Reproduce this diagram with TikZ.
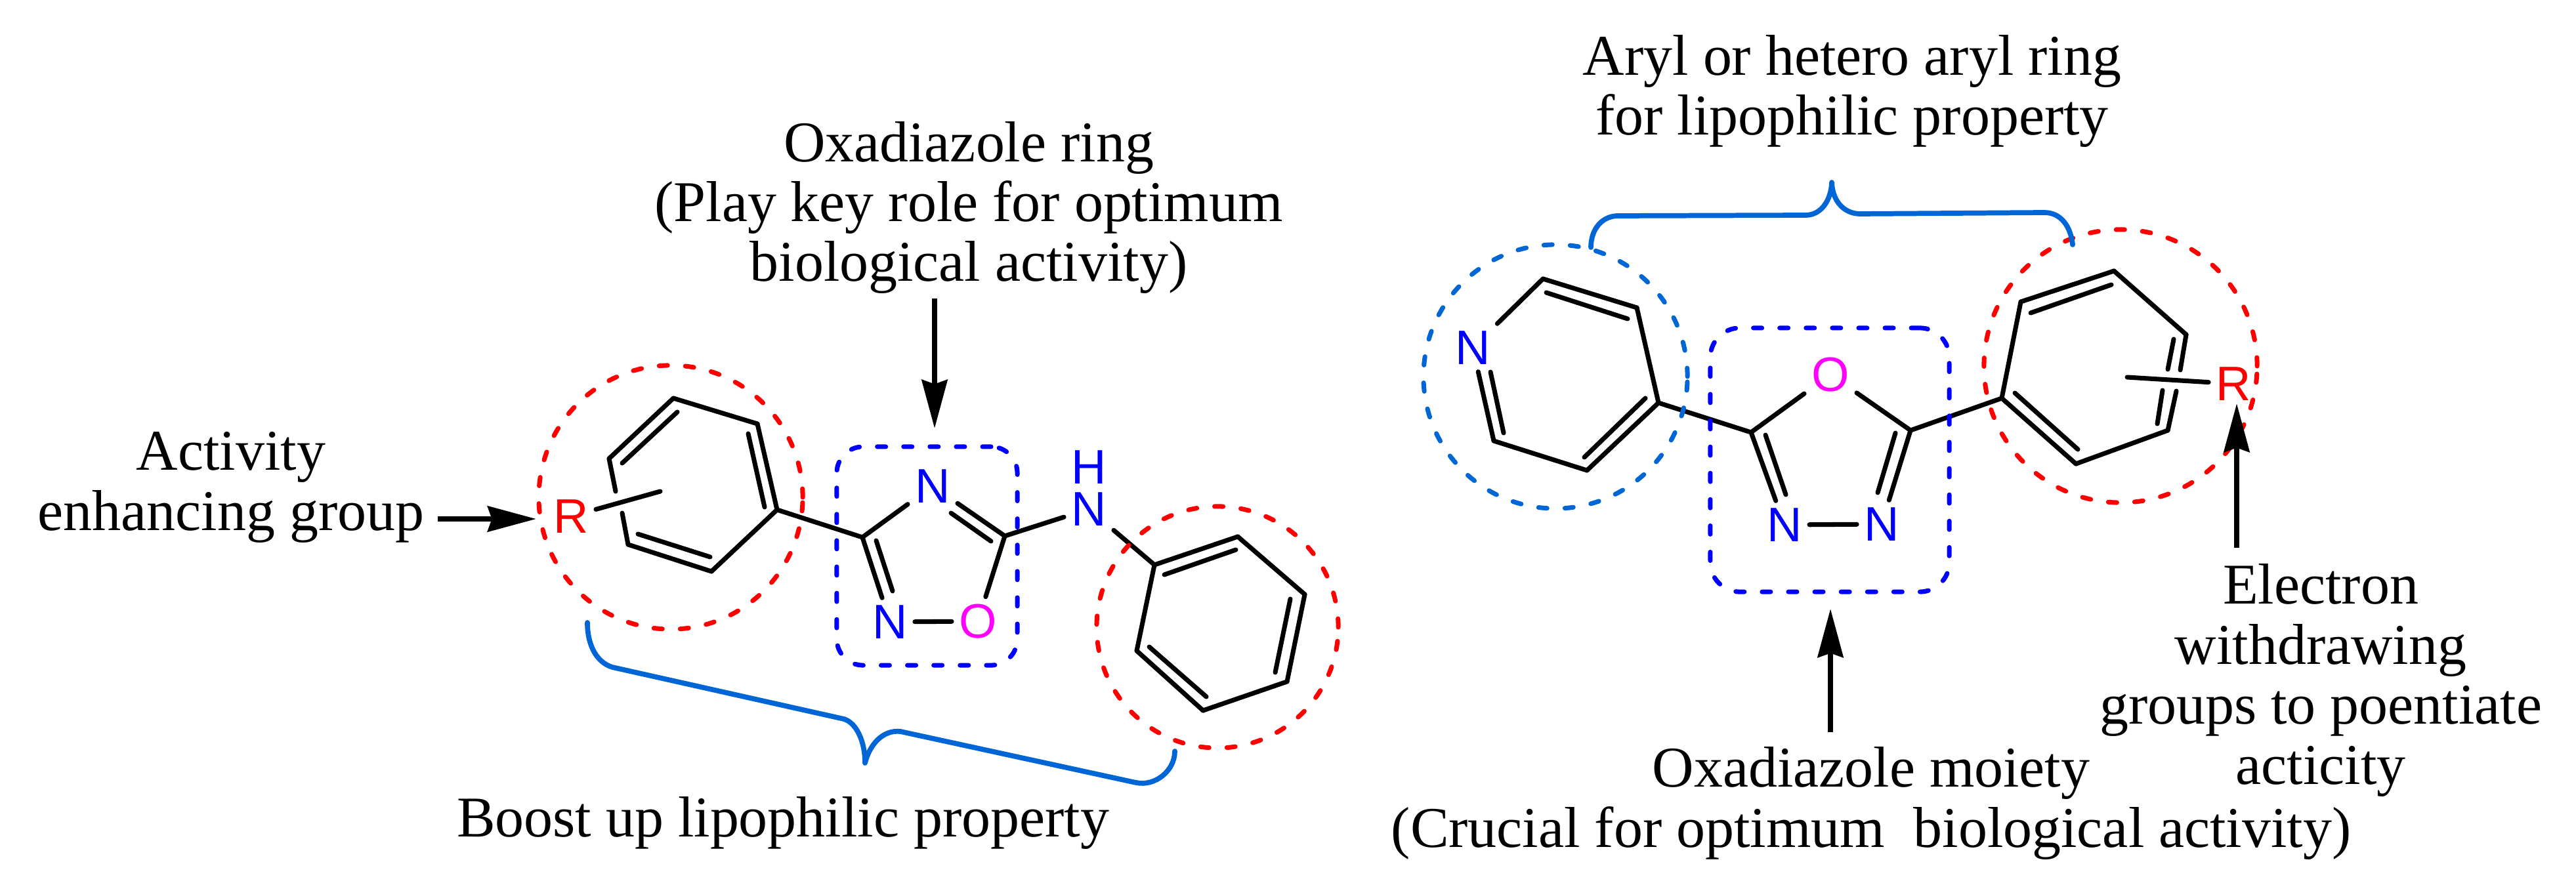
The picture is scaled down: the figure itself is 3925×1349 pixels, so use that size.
\documentclass[tikz,border=0pt]{standalone}
\usepackage{fontspec}
\setmainfont{Liberation Serif}
\newfontfamily\atomfont{Liberation Sans}
\usetikzlibrary{arrows.meta}
\definecolor{ringblue}{RGB}{0,0,255}
\definecolor{lipoblue}{RGB}{0,102,214}
\definecolor{oxypink}{RGB}{255,0,255}
\tikzset{
  label/.style={font=\fontsize{25}{26}\selectfont,align=center,anchor=base,inner sep=0pt},
  atom/.style={font=\atomfont\fontsize{21}{21}\selectfont,inner sep=3pt},
  nitro/.style={atom,text=ringblue},
  oxy/.style={atom,text=oxypink},
  subst/.style={atom,text=red},
  bond/.style={line width=2pt,line cap=round},
  pointer/.style={line width=2.3pt,-{Stealth[length=21pt,width=11pt,inset=1.8pt]}},
  lipo/.style={draw=lipoblue,line width=2.2pt,line cap=round,line join=round},
  halo/.style={circle,draw,line width=2pt,line cap=round,dash pattern=on 3.7pt off 7.7pt,inner sep=0pt,outer sep=0pt},
  ringbox/.style={rectangle,draw=ringblue,line width=2pt,line cap=round,dash pattern=on 3.7pt off 7.7pt,inner sep=0pt,outer sep=0pt}
}
\begin{document}
\begin{tikzpicture}[x=0.01cm,y=-0.01cm]
  \useasboundingbox (0,0) rectangle (3925,1349);
  \draw
    (928,699) coordinate (a1)
    (1026,607) coordinate (a2)
    (1154,646) coordinate (a3)
    (1184,777) coordinate (a4)
    (1084,871) coordinate (a5)
    (957,830) coordinate (a6)
    (938,749) coordinate (a1x)
    (948,782) coordinate (a6x)
    (1006,749) coordinate (atail)
    (1032,628) coordinate (a2i)
    (948,706) coordinate (a1i)
    (1140,661) coordinate (a3i)
    (1165,773) coordinate (a4i)
    (1082,849) coordinate (a5i)
    (972,814) coordinate (a6i)
    (1314,819) coordinate (c3)
    (1531,817) coordinate (c5)
    (1449,782) coordinate (n4i)
    (1510,825) coordinate (c5i)
    (1335,824) coordinate (c3i)
    (1360,901) coordinate (n2i)
    (1759,861) coordinate (b1)
    (1886,818) coordinate (b2)
    (1988,906) coordinate (b3)
    (1961,1039) coordinate (b4)
    (1833,1083) coordinate (b5)
    (1732,992) coordinate (b6)
    (1774,876) coordinate (b1i)
    (1883,838) coordinate (b2i)
    (1966,913) coordinate (b3i)
    (1943,1025) coordinate (b4i)
    (1838,1062) coordinate (b5i)
    (1751,986) coordinate (b6i)
    (2351,425) coordinate (p2)
    (2494,469) coordinate (p3)
    (2527,614) coordinate (p4)
    (2418,717) coordinate (p5)
    (2276,672) coordinate (p6)
    (2356,446) coordinate (p2i)
    (2480,486) coordinate (p3i)
    (2507,607) coordinate (p4i)
    (2414,697) coordinate (p5i)
    (2291,660) coordinate (p6i)
    (2271,567) coordinate (pni)
    (2668,659) coordinate (d2)
    (2911,656) coordinate (d5)
    (2690,663) coordinate (d2i)
    (2721,754) coordinate (d3i)
    (2888,660) coordinate (d5i)
    (2861,751) coordinate (d4i)
    (3050,607) coordinate (e1)
    (3079,460) coordinate (e2)
    (3221,413) coordinate (e3)
    (3331,510) coordinate (e4)
    (3303,656) coordinate (e5)
    (3163,707) coordinate (e6)
    (3094,477) coordinate (e2i)
    (3217,434) coordinate (e3i)
    (3312,517) coordinate (e4i)
    (3303,563) coordinate (e4j)
    (3322,564) coordinate (e4x)
    (3316,596) coordinate (e5x)
    (3295,595) coordinate (e5j)
    (3287,646) coordinate (e5i)
    (3166,685) coordinate (e6i)
    (3070,599) coordinate (e1i)
    (3241,575) coordinate (etail);
  \draw
    (870,787) node[subst] (r1){R}
    (1421,741) node[nitro] (n4){N}
    (1356,948) node[nitro] (n2){N}
    (1490,947) node[oxy] (o1){O}
    (1659,776) node[nitro] (nh){N}
    (1659,712) node[nitro,inner sep=0pt] (hh){H}
    (2244,530) node[nitro] (pn){N}
    (2789,571) node[oxy] (o2){O}
    (2719,800) node[nitro] (n3){N}
    (2867,799) node[nitro] (n5){N}
    (3403,585) node[subst] (r2){R};
  \begin{scope}[bond]
    \draw (a1) to (a2);
    \draw (a2) to (a3);
    \draw (a3) to (a4);
    \draw (a4) to (a5);
    \draw (a5) to (a6);
    \draw (a6) to (a6x);
    \draw (a1x) to (a1);
    \draw (a2i) to (a1i);
    \draw (a3i) to (a4i);
    \draw (a5i) to (a6i);
    \draw (r1) to (atail);
    \draw (a4) to (c3);
    \draw (c3) to (n4);
    \draw (n4) to (c5);
    \draw (n4i) to (c5i);
    \draw (c5) to (o1);
    \draw (o1) to (n2);
    \draw (n2) to (c3);
    \draw (c3i) to (n2i);
    \draw (c5) to (nh);
    \draw (nh) to (b1);
    \draw (b1) to (b2);
    \draw (b2) to (b3);
    \draw (b3) to (b4);
    \draw (b4) to (b5);
    \draw (b5) to (b6);
    \draw (b6) to (b1);
    \draw (b1i) to (b2i);
    \draw (b3i) to (b4i);
    \draw (b5i) to (b6i);
    \draw (pn) to (p2);
    \draw (p2) to (p3);
    \draw (p3) to (p4);
    \draw (p4) to (p5);
    \draw (p5) to (p6);
    \draw (p6) to (pn);
    \draw (p2i) to (p3i);
    \draw (p4i) to (p5i);
    \draw (p6i) to (pni);
    \draw (p4) to (d2);
    \draw (d2) to (o2);
    \draw (o2) to (d5);
    \draw (d5) to (n5);
    \draw (n5) to (n3);
    \draw (n3) to (d2);
    \draw (d2i) to (d3i);
    \draw (d5i) to (d4i);
    \draw (d5) to (e1);
    \draw (e1) to (e2);
    \draw (e2) to (e3);
    \draw (e3) to (e4);
    \draw (e4) to (e4x);
    \draw (e5x) to (e5);
    \draw (e5) to (e6);
    \draw (e6) to (e1);
    \draw (e2i) to (e3i);
    \draw (e4i) to (e4j);
    \draw (e5j) to (e5i);
    \draw (e6i) to (e1i);
    \draw (r2) to (etail);
  \end{scope}
  \node[halo,draw=red,minimum size=4.02cm] (haloa) at (1022,758) {};
  \node[halo,draw=red,minimum size=3.68cm] (halob) at (1855,956) {};
  \node[halo,draw=lipoblue,minimum size=4.02cm] (halop) at (2370,574) {};
  \node[halo,draw=red,minimum size=4.16cm] (haloe) at (3231,558) {};
  \node[ringbox,rounded corners=11.4pt,minimum width=2.75cm,minimum height=3.33cm] (boxa) at (1412.5,847.5) {};
  \node[ringbox,rounded corners=12.8pt,minimum width=3.64cm,minimum height=4.02cm] (boxd) at (2788,701) {};
  \draw[lipo] (895,949) .. controls (895,985) and (910,1010) .. (933,1017)
    -- (1286,1096) .. controls (1305,1102) and (1318,1130) .. (1318,1163)
    .. controls (1325,1135) and (1345,1112) .. (1372,1115)
    -- (1731,1193) .. controls (1760,1199) and (1790,1175) .. (1790,1145);
  \draw[lipo] (2424,377) .. controls (2424,350) and (2440,330) .. (2464,329)
    -- (2751,328) .. controls (2775,328) and (2790,305) .. (2791,278)
    .. controls (2792,305) and (2808,325) .. (2833,326)
    -- (3115,324) .. controls (3140,324) and (3155,345) .. (3158,373);
  \draw
    (667,791) coordinate (ptra)
    (817,791) coordinate (tipa)
    (1424,455) coordinate (ptrb)
    (1424,653) coordinate (tipb)
    (2789,1116) coordinate (ptrc)
    (2789,928) coordinate (tipc)
    (3408,835) coordinate (ptrd)
    (3408,615) coordinate (tipd);
  \draw[pointer] (ptra) to (tipa);
  \draw[pointer] (ptrb) to (tipb);
  \draw[pointer] (ptrc) to (tipc);
  \draw[pointer] (ptrd) to (tipd);
  \node[label] (activity) at (352,808) {Activity\ \\enhancing group};
  \node[label] (boost) at (1193,1275) {Boost up lipophilic property};
  \node[label] (keyrole) at (1476,429) {Oxadiazole ring\\(Play key role for optimum\\biological activity)};
  \node[label] (aryl) at (2822,206) {Aryl or hetero aryl ring\\for lipophilic property};
  \node[label] (moiety) at (2851,1291) {Oxadiazole moiety\\(Crucial for optimum\ \ biological activity)};
  \node[label] (electron) at (3536,1195) {Electron\\withdrawing\\groups to poentiate\\acticity};
\end{tikzpicture}
\end{document}
